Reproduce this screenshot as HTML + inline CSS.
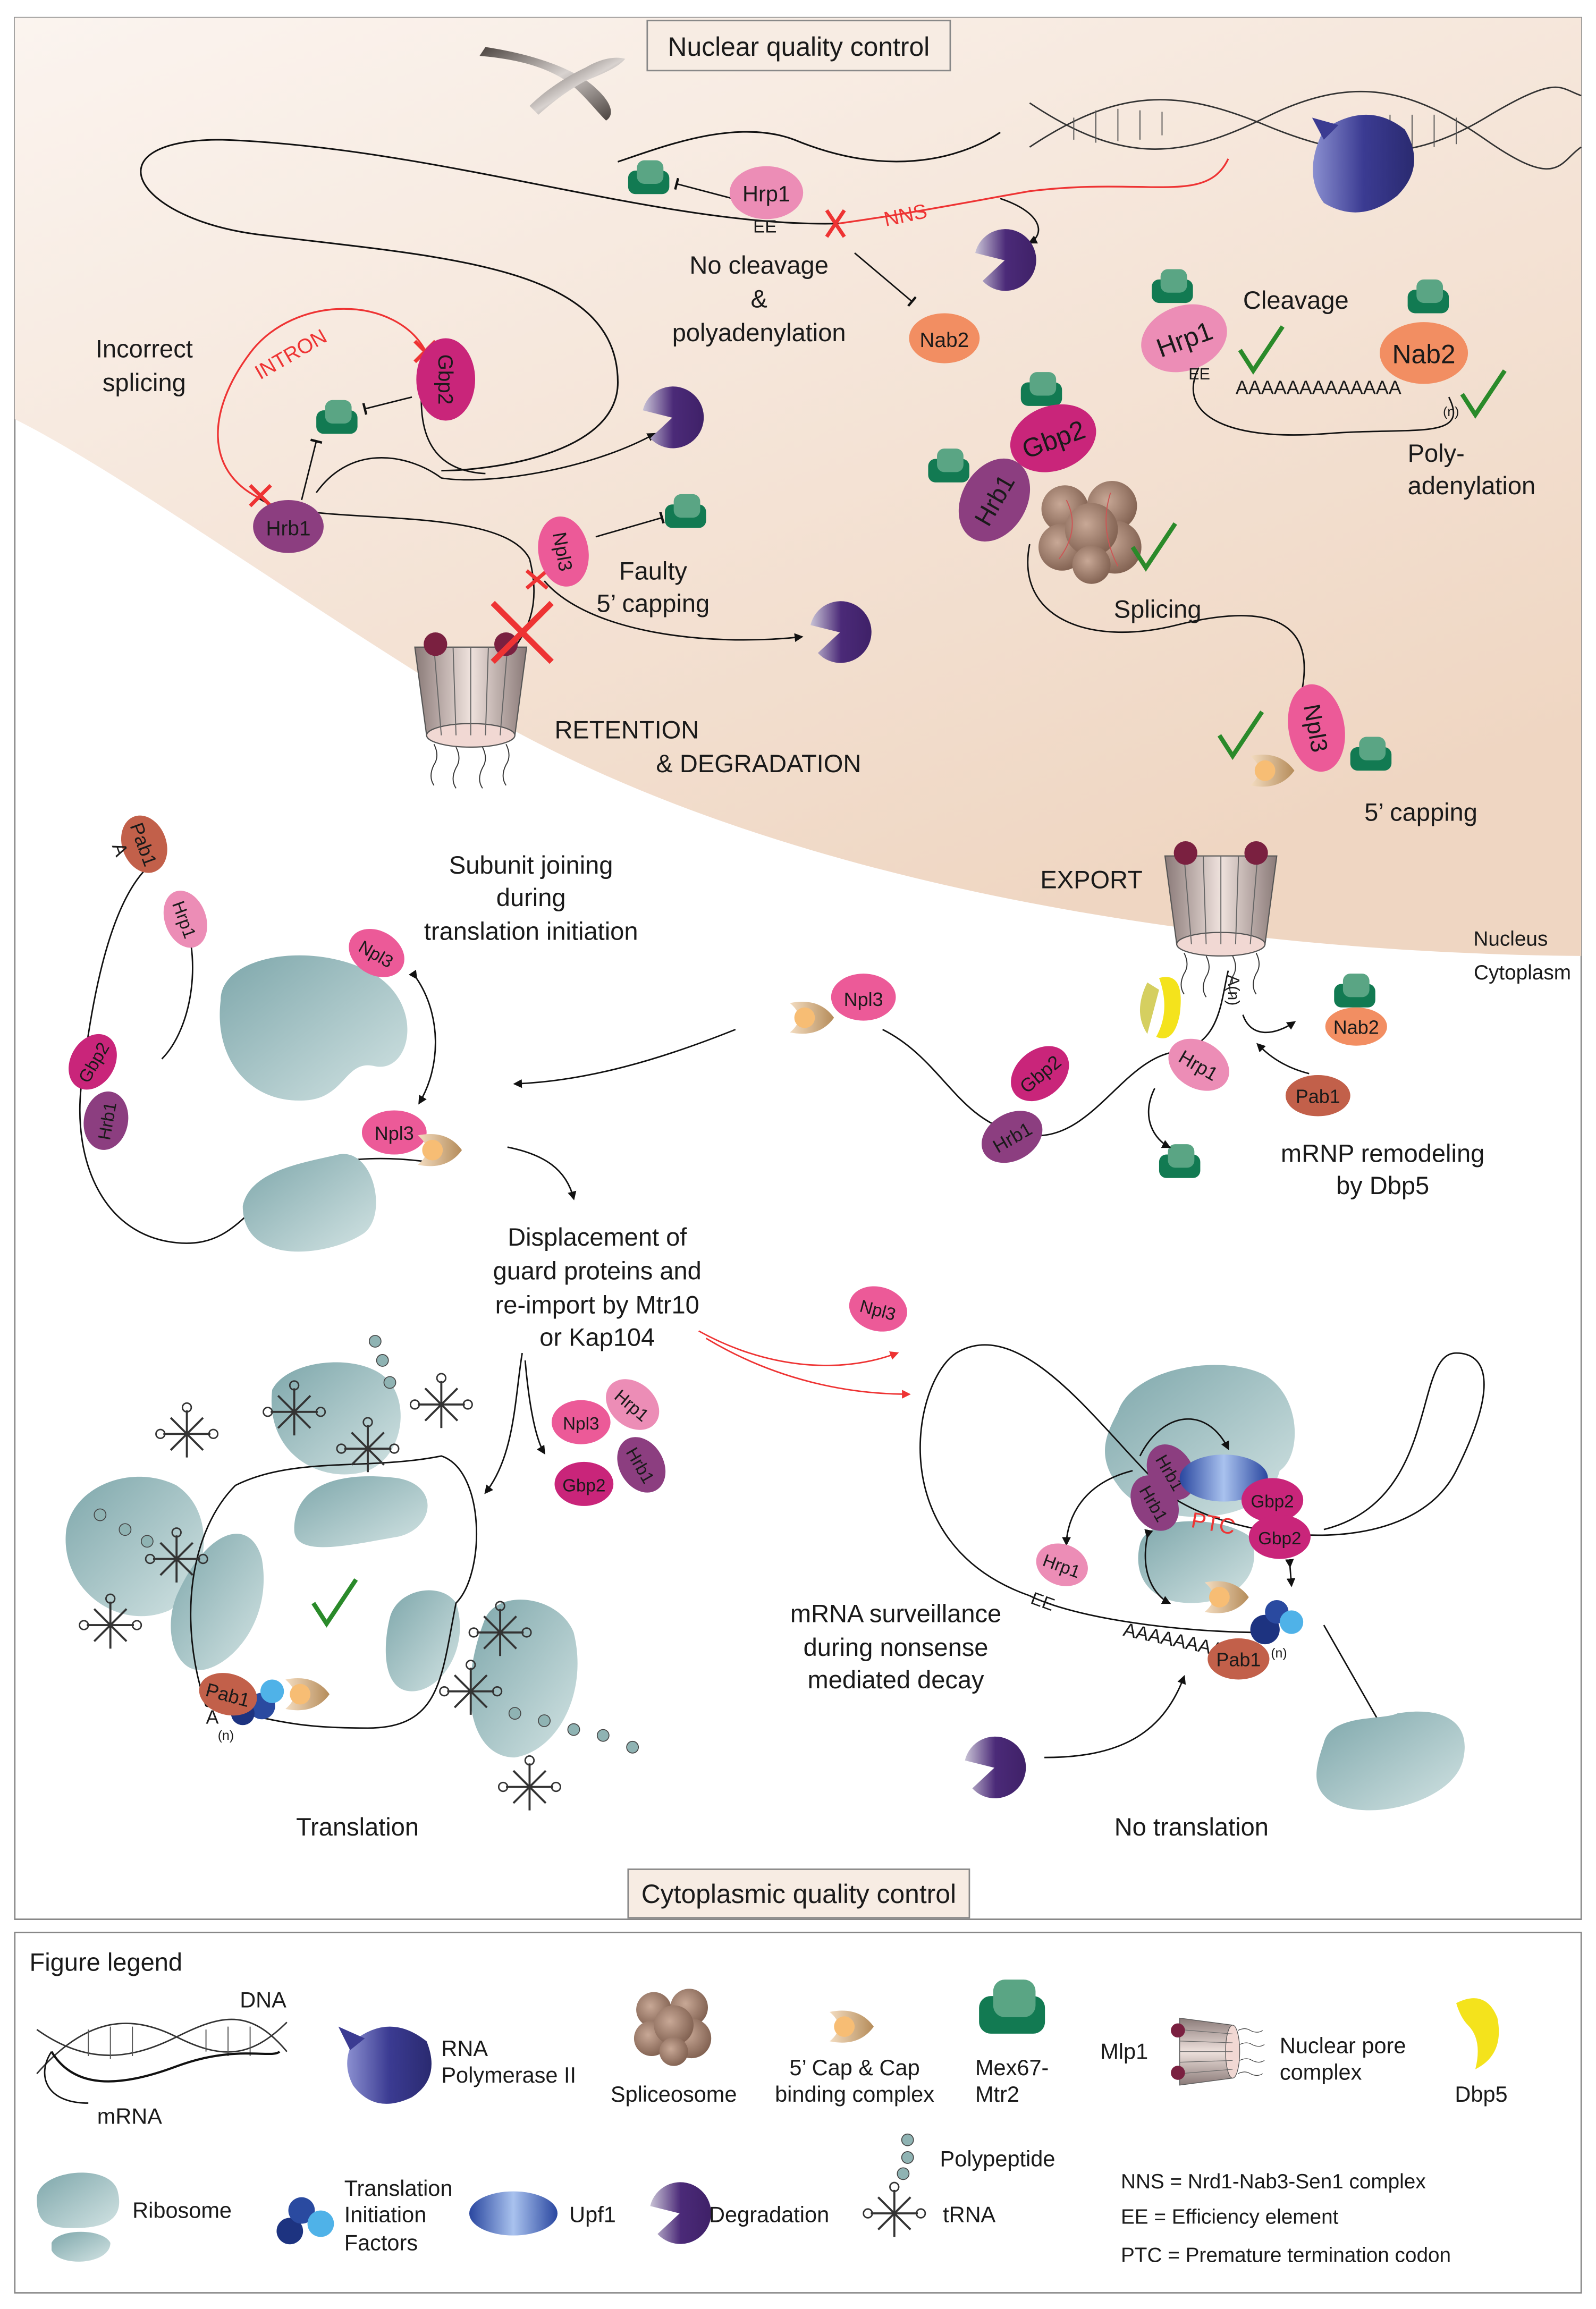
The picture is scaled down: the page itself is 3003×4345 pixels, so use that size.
<!DOCTYPE html>
<html><head><meta charset="utf-8"><style>
html,body{margin:0;padding:0;background:#fff}
svg{display:block}
text{font-family:"Liberation Sans",sans-serif;fill:#1a1a1a}
</style></head><body>
<svg width="3003" height="4345" viewBox="0 0 1085 1570" xmlns="http://www.w3.org/2000/svg">
<defs>
<linearGradient id="nuc" x1="0" y1="0" x2="0.6" y2="1">
<stop offset="0" stop-color="#fbf4ef"/><stop offset="1" stop-color="#efd6c2"/></linearGradient>
<linearGradient id="grn" x1="0" y1="0" x2="0" y2="1"><stop offset="0" stop-color="#5aa584"/><stop offset="1" stop-color="#127a52"/></linearGradient>
<linearGradient id="pac" x1="0" y1="0" x2="1" y2="0"><stop offset="0" stop-color="#c9c3d6"/><stop offset=".5" stop-color="#4b2a78"/><stop offset="1" stop-color="#3f2168"/></linearGradient>
<linearGradient id="rib" x1="0" y1="0" x2="1" y2="1"><stop offset="0" stop-color="#7ea7ab"/><stop offset="1" stop-color="#d2e3e3"/></linearGradient>
<linearGradient id="cap" x1="0" y1="0" x2="1" y2="0"><stop offset="0" stop-color="#f3dcc0"/><stop offset="1" stop-color="#b58c5a"/></linearGradient>
<linearGradient id="upf" x1="0" y1="0" x2="1" y2="0"><stop offset="0" stop-color="#2a47a0"/><stop offset=".5" stop-color="#a9c2ee"/><stop offset="1" stop-color="#2a47a0"/></linearGradient>
<linearGradient id="npc" x1="0" y1="0" x2="1" y2="0"><stop offset="0" stop-color="#8a7a78"/><stop offset=".5" stop-color="#efe2dd"/><stop offset="1" stop-color="#8a7a78"/></linearGradient>
<linearGradient id="chr" x1="0" y1="0" x2="1" y2="1"><stop offset="0" stop-color="#4a423e"/><stop offset=".5" stop-color="#d8d2cf"/><stop offset="1" stop-color="#4a423e"/></linearGradient>
<radialGradient id="spl" cx=".4" cy=".4" r=".7"><stop offset="0" stop-color="#c8a896"/><stop offset="1" stop-color="#7a5a4a"/></radialGradient>
<g id="mex"><rect x="-14" y="-8" width="28" height="16" rx="5" fill="#127a52"/><rect x="-8" y="-15" width="18" height="16" rx="5" fill="#5aa584"/></g>
<g id="pm"><path d="M0,0 L-20,-5 A21,21 0 1 1 -15,14 Z" fill="url(#pac)"/></g>
<g id="capg"><path d="M-16,-10 Q4,-14 14,0 Q4,14 -16,10 Q-4,0 -16,-10Z" fill="url(#cap)"/><circle cx="-6" cy="0" r="7" fill="#f7bd74"/></g>
<g id="npcg"><path d="M-38,-30 L38,-30 L30,30 L-30,30 Z" fill="url(#npc)" stroke="#555" stroke-width=".8"/><ellipse cx="0" cy="30" rx="30" ry="8" fill="#f1d8d3" stroke="#555" stroke-width=".8"/><path d="M-25,-30 L-20,30 M-12,-30 L-10,30 M0,-30 L0,30 M12,-30 L10,30 M25,-30 L20,30" stroke="#666" stroke-width=".7"/><circle cx="-24" cy="-32" r="8" fill="#7a2040"/><circle cx="24" cy="-32" r="8" fill="#7a2040"/><path d="M-25,36 q4,8 0,14 q-4,8 0,14 M-10,38 q4,8 0,14 q-4,8 0,14 M8,38 q4,8 0,14 q-4,8 0,14 M24,36 q4,8 0,14 q-4,8 0,14" stroke="#333" fill="none" stroke-width=".7"/></g>
<g id="trna"><path d="M0,-16 V16 M-16,0 H16 M-11,-11 L11,11 M-11,11 L11,-11" stroke="#333" stroke-width="1.4" fill="none"/><circle cx="0" cy="-18" r="3" fill="none" stroke="#333"/><circle cx="-18" cy="0" r="3" fill="none" stroke="#333"/><circle cx="18" cy="0" r="3" fill="none" stroke="#333"/></g>
<g id="splc"><circle cx="-18" cy="-14" r="16" fill="url(#spl)"/><circle cx="14" cy="-16" r="17" fill="url(#spl)"/><circle cx="-20" cy="12" r="16" fill="url(#spl)"/><circle cx="16" cy="12" r="18" fill="url(#spl)"/><circle cx="0" cy="0" r="18" fill="url(#spl)"/><circle cx="0" cy="24" r="13" fill="url(#spl)"/></g>
<marker id="ar" viewBox="0 0 10 10" refX="8" refY="5" markerWidth="6" markerHeight="6" orient="auto"><path d="M0,0 L10,5 L0,10 Z" fill="#111"/></marker>
<marker id="arr" viewBox="0 0 10 10" refX="8" refY="5" markerWidth="6" markerHeight="6" orient="auto"><path d="M0,0 L10,5 L0,10 Z" fill="#e33"/></marker>
<marker id="tb" viewBox="0 0 10 10" refX="5" refY="5" markerWidth="8" markerHeight="8" orient="auto"><path d="M5,0 V10" stroke="#111" stroke-width="2"/></marker>
</defs>

<rect x="10" y="12" width="1065" height="1293" fill="#fff" stroke="#888" stroke-width="1"/>
<path d="M10,12 H1075 V650 C820,648 520,600 320,480 C190,400 80,320 10,285 Z" fill="url(#nuc)"/>

<rect x="440" y="14" width="206" height="34" fill="#f7ece3" stroke="#888"/>
<text x="543" y="38" font-size="18" text-anchor="middle">Nuclear quality control</text>
<rect x="427" y="1271" width="232" height="33" fill="#f7ece3" stroke="#888"/>
<text x="543" y="1294" font-size="18" text-anchor="middle">Cytoplasmic quality control</text>

<!-- chromosome -->
<path d="M326,38 C350,40 370,45 385,55 C395,62 405,75 412,82 C418,78 416,70 405,60 C395,50 370,38 330,32 Z" fill="url(#chr)"/>
<path d="M360,72 C370,62 385,52 398,46 C408,40 418,38 425,40 C420,46 410,50 398,55 C385,62 375,70 366,78 Z" fill="url(#chr)"/>
<!-- DNA helix -->
<path d="M700,100 C760,60 800,60 860,85 S960,110 1010,80 S1060,60 1075,65" stroke="#333" fill="none"/>
<path d="M700,70 C760,110 800,110 860,80 S960,60 1010,95 S1060,110 1075,100" stroke="#333" fill="none"/>
<path d="M730,80 v15 M745,75 v22 M760,74 v22 M775,75 v20 M790,76 v16 M930,80 v14 M945,78 v20 M960,78 v22 M975,78 v22 M990,80 v18" stroke="#555" stroke-width=".7"/>
<linearGradient id="pol" x1="0" y1="0" x2="1" y2="0"><stop offset="0" stop-color="#8a8fd0"/><stop offset=".5" stop-color="#3b3b92"/><stop offset="1" stop-color="#2a2a70"/></linearGradient>
<path d="M900,88 q30,-20 55,0 q15,25 -5,45 q-25,20 -50,5 q-15,-20 0,-50z" fill="url(#pol)"/>
<path d="M892,80 l18,5 l-10,10z" fill="#3b3b92"/>
<!-- mRNAs nucleus -->
<path d="M835,108 C820,140 780,120 700,130 C660,137 620,145 570,152" stroke="#e33" fill="none" stroke-width="1.2"/>
<path d="M570,152 C450,155 300,100 150,95 C60,95 90,150 180,160 C300,175 420,180 420,260 C420,310 330,320 300,320" stroke="#111" fill="none" stroke-width="1.1"/>
<path d="M420,110 C450,100 500,80 540,95 C600,120 650,110 680,90" stroke="#111" fill="none" stroke-width="1.1"/>
<path d="M290,240 C270,200 200,200 170,240 C140,280 140,320 175,338" stroke="#e33" fill="none" stroke-width="1.2"/>
<path d="M290,240 C280,290 290,320 330,322" stroke="#111" fill="none"/>
<path d="M175,338 C200,360 340,340 360,380 C365,400 365,420 350,440" stroke="#111" fill="none"/>
<path d="M215,335 C240,300 280,310 300,325 C330,330 400,320 445,295" stroke="#111" fill="none" marker-end="url(#ar)"/>
<path d="M370,395 C400,430 480,440 545,433" stroke="#111" fill="none" marker-end="url(#ar)"/>
<path d="M680,135 C710,145 710,160 700,165" stroke="#111" fill="none" marker-end="url(#ar)"/>
<path d="M581,172 L620,205" stroke="#111" marker-end="url(#tb)"/>
<path d="M498,135 L460,125" stroke="#111" marker-end="url(#tb)"/>
<path d="M280,270 L248,278" stroke="#111" marker-end="url(#tb)"/>
<path d="M205,340 L215,300" stroke="#111" marker-end="url(#tb)"/>
<path d="M405,365 L450,352" stroke="#111" marker-end="url(#tb)"/>
<text x="600" y="142" font-size="14" fill="#e33" style="fill:#e33" transform="rotate(-12 658 138)">NNS</text>
<text x="512" y="158" font-size="12">EE</text>
<path d="M562,143 L574,161 M574,143 L562,161" stroke="#e33" stroke-width="2.5"/>
<text x="200" y="245" font-size="14" style="fill:#e33" transform="rotate(-30 200 245)" text-anchor="middle">INTRON</text>
<path d="M282,232 L296,246 M296,232 L282,246" stroke="#e33" stroke-width="2.5"/>
<path d="M170,330 L184,344 M184,330 L170,344" stroke="#e33" stroke-width="2.5"/>
<path d="M358,388 L372,400 M372,388 L358,400" stroke="#e33" stroke-width="2.5"/>

<!-- proteins nucleus -->
<use href="#mex" x="441" y="124"/>
<ellipse cx="521" cy="131" rx="25" ry="18" fill="#ec8db6"/><text x="521" y="137" font-size="15" text-anchor="middle">Hrp1</text>
<use href="#pm" x="683" y="177"/>
<ellipse cx="642" cy="230" rx="24" ry="17" fill="#f28e62"/><text x="642" y="236" font-size="14" text-anchor="middle">Nab2</text>
<ellipse cx="303" cy="258" rx="28" ry="20" fill="#c9257a" transform="rotate(90 303 258)"/><text x="303" y="263" font-size="14" text-anchor="middle" transform="rotate(90 303 258)">Gbp2</text>
<use href="#mex" x="229" y="287"/>
<use href="#pm" x="457" y="284"/>
<ellipse cx="196" cy="358" rx="24" ry="18" fill="#8c3e80"/><text x="196" y="364" font-size="14" text-anchor="middle">Hrb1</text>
<ellipse cx="383" cy="375" rx="24" ry="17" fill="#ec5a98" transform="rotate(80 383 375)"/><text x="383" y="380" font-size="13" text-anchor="middle" transform="rotate(80 383 375)">Npl3</text>
<use href="#mex" x="466" y="351"/>
<use href="#pm" x="571" y="430"/>
<use href="#npcg" x="320" y="470"/>
<path d="M335,410 L375,450 M375,410 L335,450" stroke="#e33" stroke-width="4"/>

<text x="98" y="243" font-size="17" text-anchor="middle">Incorrect</text><text x="98" y="266" font-size="17" text-anchor="middle">splicing</text>
<text x="516" y="186" font-size="17" text-anchor="middle">No cleavage</text><text x="516" y="209" font-size="17" text-anchor="middle">&amp;</text><text x="516" y="232" font-size="17" text-anchor="middle">polyadenylation</text>
<text x="444" y="394" font-size="17" text-anchor="middle">Faulty</text><text x="444" y="416" font-size="17" text-anchor="middle">5’ capping</text>
<text x="377" y="502" font-size="17">RETENTION</text><text x="446" y="525" font-size="17">&amp; DEGRADATION</text>

<!-- correct path -->
<path d="M815,250 C800,280 830,300 900,295 C960,290 1000,300 985,270" stroke="#111" fill="none"/>
<text x="840" y="268" font-size="13">AAAAAAAAAAAAA</text><text x="981" y="283" font-size="9">(n)</text>
<use href="#mex" x="797" y="198"/>
<ellipse cx="805" cy="230" rx="30" ry="22" fill="#ec8db6" transform="rotate(-20 805 230)"/><text x="805" y="237" font-size="18" text-anchor="middle" transform="rotate(-20 805 230)">Hrp1</text>
<text x="808" y="258" font-size="11">EE</text>
<use href="#mex" x="971" y="205"/>
<ellipse cx="968" cy="240" rx="30" ry="21" fill="#f28e62"/><text x="968" y="247" font-size="18" text-anchor="middle">Nab2</text>
<text x="881" y="210" font-size="17" text-anchor="middle">Cleavage</text>
<text x="957" y="314" font-size="17">Poly-</text><text x="957" y="336" font-size="17">adenylation</text>
<path d="M843,238 L852,252 L872,222" stroke="#2a8a2a" stroke-width="3" fill="none"/>
<path d="M994,268 L1003,282 L1023,252" stroke="#2a8a2a" stroke-width="3" fill="none"/>
<path d="M700,370 C690,420 740,440 800,425 C860,410 895,420 885,470" stroke="#111" fill="none"/>
<use href="#mex" x="708" y="268"/>
<ellipse cx="716" cy="298" rx="30" ry="22" fill="#c9257a" transform="rotate(-20 716 298)"/><text x="716" y="305" font-size="18" text-anchor="middle" transform="rotate(-20 716 298)">Gbp2</text>
<use href="#mex" x="645" y="320"/>
<ellipse cx="676" cy="340" rx="30" ry="22" fill="#8c3e80" transform="rotate(-60 676 340)"/><text x="676" y="346" font-size="17" text-anchor="middle" transform="rotate(-60 676 340)">Hrb1</text>
<use href="#splc" x="742" y="360"/>
<path d="M725,340 q10,20 -5,40 M755,335 q-8,25 5,50" stroke="#c55" stroke-width=".7" fill="none"/>
<path d="M770,372 L779,386 L799,356" stroke="#2a8a2a" stroke-width="3" fill="none"/>
<text x="787" y="420" font-size="17" text-anchor="middle">Splicing</text>
<use href="#capg" x="866" y="524"/>
<ellipse cx="895" cy="495" rx="30" ry="19" fill="#ec5a98" transform="rotate(80 895 495)"/><text x="895" y="501" font-size="16" text-anchor="middle" transform="rotate(80 895 495)">Npl3</text>
<use href="#mex" x="932" y="516"/>
<path d="M829,500 L838,514 L858,484" stroke="#2a8a2a" stroke-width="3" fill="none"/>
<text x="966" y="558" font-size="17" text-anchor="middle">5’ capping</text>
<text x="742" y="604" font-size="17" text-anchor="middle">EXPORT</text>
<use href="#npcg" x="830" y="612"/>
<text x="1027" y="643" font-size="14" text-anchor="middle">Nucleus</text>
<text x="1035" y="666" font-size="14" text-anchor="middle">Cytoplasm</text>

<!-- export remodeling -->
<path d="M600,700 C640,720 650,760 690,770 C740,785 760,720 800,715 C830,710 830,680 835,660" stroke="#111" fill="none"/>
<path d="M788,665 q18,-5 14,25 q-4,20 -16,15 q10,-18 2,-40z" fill="#f4e31c"/>
<path d="M780,668 q-10,20 0,35 q4,-15 8,-30z" fill="#d5cf60"/>
<text x="830" y="668" font-size="11" transform="rotate(90 835 668)">A(n)</text>
<use href="#capg" x="553" y="692"/>
<ellipse cx="587" cy="678" rx="22" ry="16" fill="#ec5a98"/><text x="587" y="684" font-size="13" text-anchor="middle">Npl3</text>
<ellipse cx="707" cy="730" rx="22" ry="16" fill="#c9257a" transform="rotate(-40 707 730)"/><text x="707" y="735" font-size="13" text-anchor="middle" transform="rotate(-40 707 730)">Gbp2</text>
<ellipse cx="688" cy="773" rx="22" ry="16" fill="#8c3e80" transform="rotate(-30 688 773)"/><text x="688" y="778" font-size="13" text-anchor="middle" transform="rotate(-30 688 773)">Hrb1</text>
<ellipse cx="815" cy="724" rx="22" ry="16" fill="#ec8db6" transform="rotate(30 815 724)"/><text x="815" y="729" font-size="13" text-anchor="middle" transform="rotate(30 815 724)">Hrp1</text>
<use href="#mex" x="921" y="677"/>
<ellipse cx="922" cy="698" rx="21" ry="13" fill="#f28e62"/><text x="922" y="703" font-size="13" text-anchor="middle">Nab2</text>
<ellipse cx="896" cy="745" rx="22" ry="14" fill="#c2604a"/><text x="896" y="750" font-size="13" text-anchor="middle">Pab1</text>
<use href="#mex" x="802" y="793"/>
<path d="M785,740 C775,760 785,775 795,780" stroke="#111" fill="none" marker-end="url(#ar)"/>
<path d="M845,690 C850,705 865,705 880,695" stroke="#111" fill="none" marker-end="url(#ar)"/>
<path d="M890,730 C870,725 860,715 855,710" stroke="#111" fill="none" marker-end="url(#ar)"/>
<text x="940" y="790" font-size="17" text-anchor="middle">mRNP remodeling</text><text x="940" y="812" font-size="17" text-anchor="middle">by Dbp5</text>
<path d="M500,700 C450,720 400,735 350,737" stroke="#111" fill="none" marker-end="url(#ar)"/>

<!-- subunit joining -->
<text x="361" y="594" font-size="17" text-anchor="middle">Subunit joining</text><text x="361" y="616" font-size="17" text-anchor="middle">during</text><text x="361" y="639" font-size="17" text-anchor="middle">translation initiation</text>
<path d="M100,590 C70,620 60,700 55,740 C50,790 70,840 120,845 C170,850 170,800 230,790 C260,785 290,790 290,790" stroke="#111" fill="none"/>
<path d="M120,610 C140,650 130,700 110,720" stroke="#111" fill="none"/>
<path d="M150,680 C150,650 210,640 250,660 C290,680 280,730 255,725 C235,720 235,745 210,748 C170,752 145,720 150,680Z" fill="url(#rib)"/>
<path d="M165,820 C170,795 210,790 230,785 C255,780 265,830 245,840 C220,855 165,860 165,820Z" fill="url(#rib)"/>
<ellipse cx="98" cy="574" rx="20" ry="15" fill="#c2604a" transform="rotate(70 98 574)"/><text x="98" y="579" font-size="13" text-anchor="middle" transform="rotate(70 98 574)">Pab1</text>
<text x="76" y="575" font-size="13" transform="rotate(70 76 575)">A</text>
<ellipse cx="126" cy="625" rx="20" ry="14" fill="#ec8db6" transform="rotate(70 126 625)"/><text x="126" y="630" font-size="12" text-anchor="middle" transform="rotate(70 126 625)">Hrp1</text>
<ellipse cx="256" cy="648" rx="20" ry="15" fill="#ec5a98" transform="rotate(30 256 648)"/><text x="256" y="653" font-size="12" text-anchor="middle" transform="rotate(30 256 648)">Npl3</text>
<ellipse cx="63" cy="722" rx="20" ry="15" fill="#c9257a" transform="rotate(-60 63 722)"/><text x="63" y="727" font-size="12" text-anchor="middle" transform="rotate(-60 63 722)">Gbp2</text>
<ellipse cx="72" cy="762" rx="20" ry="15" fill="#8c3e80" transform="rotate(-80 72 762)"/><text x="72" y="767" font-size="12" text-anchor="middle" transform="rotate(-80 72 762)">Hrb1</text>
<ellipse cx="268" cy="770" rx="22" ry="15" fill="#ec5a98"/><text x="268" y="775" font-size="13" text-anchor="middle">Npl3</text>
<use href="#capg" x="300" y="782"/>
<path d="M283,665 C300,690 300,725 285,750" stroke="#111" fill="none" marker-end="url(#ar)" marker-start="url(#ar)"/>
<path d="M345,780 C370,785 385,795 390,815" stroke="#111" fill="none" marker-end="url(#ar)"/>

<text x="406" y="847" font-size="17" text-anchor="middle">Displacement of</text><text x="406" y="870" font-size="17" text-anchor="middle">guard proteins and</text><text x="406" y="893" font-size="17" text-anchor="middle">re-import by Mtr10</text><text x="406" y="915" font-size="17" text-anchor="middle">or Kap104</text>
<path d="M355,920 C350,950 350,990 330,1015" stroke="#111" fill="none" marker-end="url(#ar)"/>
<path d="M357,925 C360,960 365,980 370,988" stroke="#111" fill="none" marker-end="url(#ar)"/>
<path d="M475,905 C520,930 570,935 610,920" stroke="#e33" fill="none" marker-end="url(#arr)"/>
<path d="M480,910 C530,940 580,948 618,948" stroke="#e33" fill="none" marker-end="url(#arr)"/>
<ellipse cx="597" cy="890" rx="20" ry="15" fill="#ec5a98" transform="rotate(15 597 890)"/><text x="597" y="895" font-size="12" text-anchor="middle" transform="rotate(15 597 890)">Npl3</text>
<ellipse cx="430" cy="955" rx="20" ry="15" fill="#ec8db6" transform="rotate(40 430 955)"/><text x="430" y="960" font-size="12" text-anchor="middle" transform="rotate(40 430 955)">Hrp1</text>
<ellipse cx="395" cy="967" rx="20" ry="15" fill="#ec5a98"/><text x="395" y="972" font-size="12" text-anchor="middle">Npl3</text>
<ellipse cx="436" cy="996" rx="20" ry="15" fill="#8c3e80" transform="rotate(60 436 996)"/><text x="436" y="1001" font-size="12" text-anchor="middle" transform="rotate(60 436 996)">Hrb1</text>
<ellipse cx="397" cy="1009" rx="20" ry="15" fill="#c9257a"/><text x="397" y="1014" font-size="12" text-anchor="middle">Gbp2</text>

<!-- translation -->
<path d="M185,945 C195,925 240,920 260,935 C280,950 275,990 250,1000 C220,1010 180,990 185,945Z" fill="url(#rib)"/>
<path d="M200,1040 C200,1010 230,1000 270,1005 C300,1010 295,1040 270,1045 C240,1050 200,1060 200,1040Z" fill="url(#rib)"/>
<path d="M45,1040 C50,1010 90,995 120,1010 C150,1030 140,1080 115,1095 C80,1110 40,1080 45,1040Z" fill="url(#rib)"/>
<path d="M120,1085 C140,1040 170,1030 178,1060 C185,1100 160,1130 140,1135 C120,1140 110,1110 120,1085Z" fill="url(#rib)"/>
<path d="M265,1100 C270,1080 300,1075 310,1090 C320,1120 300,1150 280,1150 C260,1150 260,1120 265,1100Z" fill="url(#rib)"/>
<path d="M330,1100 C340,1080 380,1085 390,1110 C400,1150 380,1190 350,1195 C320,1195 310,1150 330,1100Z" fill="url(#rib)"/>
<path d="M140,1160 C120,1100 130,1040 160,1010 C200,990 250,1000 300,990 C330,1000 330,1070 310,1090 C300,1140 300,1175 250,1175 C200,1175 190,1170 140,1160" stroke="#111" fill="none"/>
<use href="#trna" x="200" y="960"/><use href="#trna" x="250" y="985"/><use href="#trna" x="300" y="955"/><use href="#trna" x="127" y="975"/>
<use href="#trna" x="120" y="1060"/><use href="#trna" x="75" y="1105"/><use href="#trna" x="340" y="1110"/><use href="#trna" x="320" y="1150"/><use href="#trna" x="360" y="1215"/>
<g fill="#8fb3b3" stroke="#444" stroke-width=".6"><circle cx="255" cy="912" r="4"/><circle cx="260" cy="925" r="4"/><circle cx="265" cy="940" r="4"/><circle cx="68" cy="1030" r="4"/><circle cx="85" cy="1040" r="4"/><circle cx="100" cy="1048" r="4"/><circle cx="350" cy="1165" r="4"/><circle cx="370" cy="1170" r="4"/><circle cx="390" cy="1176" r="4"/><circle cx="410" cy="1180" r="4"/><circle cx="430" cy="1188" r="4"/></g>
<path d="M213,1090 L222,1104 L242,1074" stroke="#2a8a2a" stroke-width="3" fill="none"/>
<circle cx="178" cy="1160" r="9" fill="#2a4aa0"/><circle cx="185" cy="1150" r="8" fill="#4fb2e8"/><circle cx="165" cy="1165" r="8" fill="#1d3380"/>
<ellipse cx="155" cy="1152" rx="20" ry="14" fill="#c2604a" transform="rotate(15 155 1152)"/><text x="155" y="1157" font-size="13" text-anchor="middle" transform="rotate(15 155 1152)">Pab1</text>
<text x="140" y="1172" font-size="13">A</text><text x="148" y="1183" font-size="9">(n)</text>
<use href="#capg" x="210" y="1152"/>
<text x="243" y="1248" font-size="17" text-anchor="middle">Translation</text>

<!-- NMD -->
<path d="M760,960 C770,930 830,920 860,935 C885,950 885,990 870,1000 C860,1040 780,1040 760,1010 C745,990 752,975 760,960Z" fill="url(#rib)"/>
<path d="M775,1050 C780,1030 830,1030 850,1045 C860,1070 840,1090 810,1090 C780,1090 770,1070 775,1050Z" fill="url(#rib)"/>
<path d="M700,1085 C600,1050 620,940 650,920 C700,890 760,990 800,1020 C850,1050 960,1060 990,1000 C1020,940 1010,920 990,920 C960,920 980,1020 900,1040" stroke="#111" fill="none"/>
<path d="M700,1085 C730,1100 800,1110 860,1110" stroke="#111" fill="none"/>
<path d="M775,990 C790,960 820,955 835,985" stroke="#111" fill="none" marker-end="url(#ar)"/>
<path d="M770,1000 C730,1010 725,1040 725,1050" stroke="#111" fill="none" marker-end="url(#ar)"/>
<path d="M780,1045 C775,1070 785,1085 795,1090" stroke="#111" fill="none" marker-end="url(#ar)" marker-start="url(#ar)"/>
<path d="M877,1065 L878,1078" stroke="#111" marker-end="url(#ar)" marker-start="url(#ar)"/>
<path d="M710,1195 C760,1195 790,1180 805,1140" stroke="#111" fill="none" marker-end="url(#ar)"/>
<path d="M900,1105 L940,1175" stroke="#111" marker-end="url(#tb)"/>
<ellipse cx="796" cy="1001" rx="20" ry="15" fill="#8c3e80" transform="rotate(60 796 1001)"/><text x="796" y="1006" font-size="12" text-anchor="middle" transform="rotate(60 796 1001)">Hrb1</text>
<ellipse cx="785" cy="1022" rx="20" ry="15" fill="#8c3e80" transform="rotate(60 785 1022)"/><text x="785" y="1027" font-size="12" text-anchor="middle" transform="rotate(60 785 1022)">Hrb1</text>
<ellipse cx="832" cy="1005" rx="30" ry="16" fill="url(#upf)"/>
<ellipse cx="865" cy="1020" rx="21" ry="15" fill="#c9257a"/><text x="865" y="1025" font-size="12" text-anchor="middle">Gbp2</text>
<ellipse cx="870" cy="1045" rx="21" ry="15" fill="#c9257a"/><text x="870" y="1050" font-size="12" text-anchor="middle">Gbp2</text>
<text x="825" y="1041" font-size="15" style="fill:#e33" text-anchor="middle" transform="rotate(10 825 1035)">PTC</text>
<ellipse cx="722" cy="1064" rx="18" ry="14" fill="#ec8db6" transform="rotate(20 722 1064)"/><text x="722" y="1069" font-size="12" text-anchor="middle" transform="rotate(20 722 1064)">Hrp1</text>
<text x="700" y="1090" font-size="12" transform="rotate(20 700 1090)">EE</text>
<text x="763" y="1112" font-size="13" transform="rotate(12 763 1112)">AAAAAAAAA</text>
<use href="#capg" x="835" y="1086"/>
<circle cx="860" cy="1108" r="10" fill="#1d3380"/><circle cx="868" cy="1096" r="8" fill="#2a4aa0"/><circle cx="878" cy="1103" r="8" fill="#4fb2e8"/>
<ellipse cx="842" cy="1128" rx="21" ry="14" fill="#c2604a"/><text x="842" y="1133" font-size="13" text-anchor="middle">Pab1</text>
<text x="864" y="1127" font-size="9">(n)</text>
<use href="#pm" x="676" y="1202"/>
<path d="M900,1185 C905,1165 940,1170 950,1165 C980,1160 1000,1170 995,1195 C990,1225 930,1240 905,1225 C890,1215 895,1200 900,1185Z" fill="url(#rib)"/>
<text x="609" y="1103" font-size="17" text-anchor="middle">mRNA surveillance</text><text x="609" y="1126" font-size="17" text-anchor="middle">during nonsense</text><text x="609" y="1148" font-size="17" text-anchor="middle">mediated decay</text>
<text x="810" y="1248" font-size="17" text-anchor="middle">No translation</text>

<!-- legend -->
<rect x="10" y="1314" width="1065" height="245" fill="#fff" stroke="#888"/>
<text x="20" y="1340" font-size="17">Figure legend</text>
<path d="M25,1410 C60,1370 90,1370 120,1385 S170,1400 195,1375" stroke="#333" fill="none"/>
<path d="M25,1380 C60,1405 90,1400 120,1385 S170,1365 195,1395" stroke="#333" fill="none"/>
<path d="M60,1380 v18 M75,1378 v22 M90,1378 v20 M140,1380 v15 M155,1378 v20 M170,1378 v20" stroke="#555" stroke-width=".7"/>
<path d="M35,1395 C50,1420 80,1420 120,1405 C160,1390 185,1400 190,1395" stroke="#111" fill="none" stroke-width="1.5"/>
<path d="M35,1395 C25,1410 30,1430 60,1430" stroke="#111" fill="none"/>
<text x="163" y="1365" font-size="15">DNA</text><text x="66" y="1444" font-size="15">mRNA</text>
<path d="M240,1388 q25,-20 50,0 q10,25 -10,38 q-25,12 -40,-8 q-8,-15 0,-30z" fill="url(#pol)"/><path d="M230,1378 l18,8 l-10,8z" fill="#3b3b92"/>
<text x="300" y="1398" font-size="15">RNA</text><text x="300" y="1416" font-size="15">Polymerase II</text>
<g transform="translate(458,1377) scale(.75)"><use href="#splc"/></g>
<text x="458" y="1429" font-size="15" text-anchor="middle">Spliceosome</text>
<use href="#capg" x="580" y="1378"/>
<text x="581" y="1411" font-size="15" text-anchor="middle">5’ Cap &amp; Cap</text><text x="581" y="1429" font-size="15" text-anchor="middle">binding complex</text>
<g transform="translate(688,1370) scale(1.6)"><use href="#mex"/></g>
<text x="663" y="1411" font-size="15">Mex67-</text><text x="663" y="1429" font-size="15">Mtr2</text>
<text x="748" y="1400" font-size="15">Mlp1</text>
<g transform="translate(820,1395) rotate(-90) scale(.6)"><use href="#npcg"/></g>
<text x="870" y="1396" font-size="15">Nuclear pore</text><text x="870" y="1414" font-size="15">complex</text>
<path d="M990,1362 q20,-10 28,10 q5,25 -15,35 q5,-20 -5,-30 q-5,-5 -8,-15z" fill="#f4e31c"/>
<text x="1007" y="1429" font-size="15" text-anchor="middle">Dbp5</text>
<path d="M25,1495 C25,1475 75,1470 80,1490 C85,1510 70,1515 50,1515 C30,1515 25,1510 25,1495Z" fill="url(#rib)"/>
<path d="M35,1525 C40,1515 70,1515 75,1525 C75,1540 40,1542 35,1530Z" fill="url(#rib)"/>
<text x="90" y="1508" font-size="15">Ribosome</text>
<circle cx="197" cy="1517" r="9" fill="#1d3380"/><circle cx="205" cy="1503" r="9" fill="#2a4aa0"/><circle cx="218" cy="1512" r="9" fill="#4fb2e8"/>
<text x="234" y="1493" font-size="15">Translation</text><text x="234" y="1511" font-size="15">Initiation</text><text x="234" y="1530" font-size="15">Factors</text>
<ellipse cx="349" cy="1505" rx="30" ry="15" fill="url(#upf)"/>
<text x="387" y="1511" font-size="15">Upf1</text>
<use href="#pm" x="462" y="1505"/>
<text x="482" y="1511" font-size="15">Degradation</text>
<use href="#trna" x="608" y="1505"/>
<g fill="#8fb3b3" stroke="#444" stroke-width=".6"><circle cx="617" cy="1455" r="4"/><circle cx="617" cy="1467" r="4"/><circle cx="614" cy="1478" r="4"/></g>
<text x="639" y="1473" font-size="15">Polypeptide</text><text x="641" y="1511" font-size="15">tRNA</text>
<text x="762" y="1488" font-size="14">NNS = Nrd1-Nab3-Sen1 complex</text>
<text x="762" y="1512" font-size="14">EE = Efficiency element</text>
<text x="762" y="1538" font-size="14">PTC = Premature termination codon</text>
</svg>
</body></html>
